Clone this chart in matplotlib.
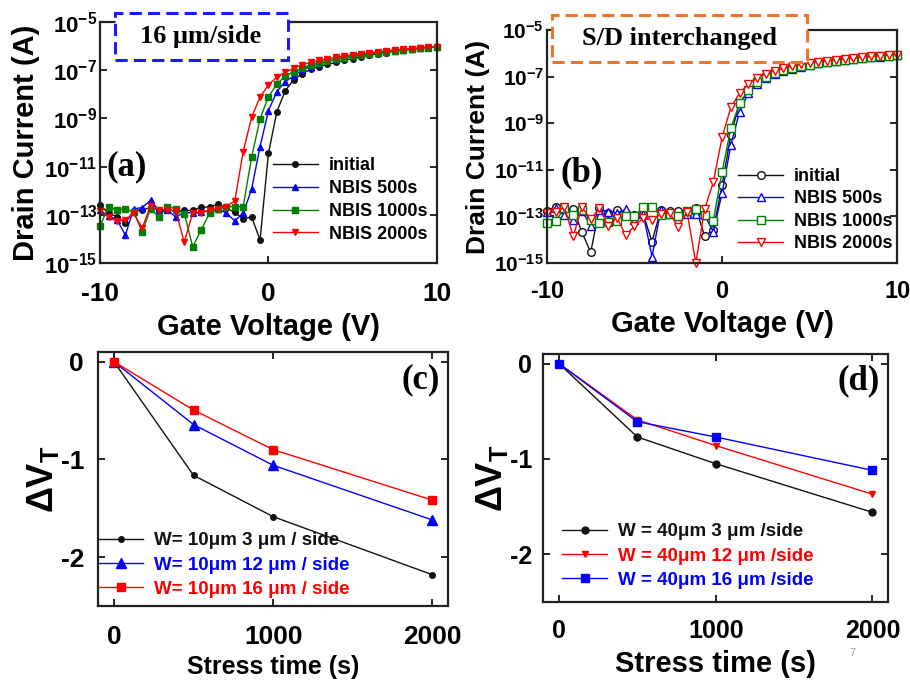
import matplotlib
matplotlib.use("Agg")
import numpy as np
import matplotlib.pyplot as plt
from matplotlib.patches import Rectangle
from matplotlib.ticker import NullLocator

plt.rcParams["font.family"] = ["Liberation Sans", "DejaVu Sans"]
plt.rcParams["font.weight"] = "bold"
plt.rcParams["axes.labelweight"] = "bold"
plt.rcParams["mathtext.fontset"] = "custom"
plt.rcParams["mathtext.rm"] = "Liberation Sans:bold"
plt.rcParams["mathtext.it"] = "Liberation Sans:bold"
plt.rcParams["mathtext.bf"] = "Liberation Sans:bold"
plt.rcParams["mathtext.default"] = "rm"
plt.rcParams["axes.unicode_minus"] = False

# gate sweep (V)
VG = [-10, -9.5, -9, -8.5, -8, -7.5, -7, -6.5, -6, -5.5, -5, -4.5, -4, -3.5,
      -3, -2.5, -2, -1.5, -1, -0.5, 0, 0.5, 1, 1.5, 2, 2.5, 3, 3.5, 4, 4.5,
      5, 5.5, 6, 6.5, 7, 7.5, 8, 8.5, 9, 9.5, 10]

# (a) 16 um/side, log10 of drain current
a_initial = [-12.60, -12.93, -13.08, -13.34, -12.83, -12.80, -12.70, -12.80, -12.78, -12.85,
             -12.82, -12.82, -12.68, -12.68, -12.55, -12.73, -12.90, -13.17, -13.08, -14.05,
             -10.45, -8.72, -7.85, -7.40, -7.15, -6.96, -6.85, -6.76, -6.68, -6.60,
             -6.52, -6.45, -6.38, -6.32, -6.27, -6.22, -6.17, -6.13, -6.09, -6.06, -6.03]
a_500 = [-12.82, -13.04, -13.20, -13.84, -12.75, -12.70, -12.40, -12.82, -12.80, -13.10,
         -12.90, -12.92, -12.90, -12.82, -12.75, -12.93, -13.25, -12.93, -11.94, -10.17,
         -8.68, -7.89, -7.48, -7.24, -6.99, -6.86, -6.74, -6.64, -6.56, -6.49,
         -6.43, -6.38, -6.33, -6.28, -6.24, -6.20, -6.16, -6.12, -6.09, -6.05, -6.02]
a_1000 = [-13.46, -12.66, -12.80, -12.75, -12.90, -13.70, -12.75, -13.10, -12.66, -12.75,
          -12.95, -14.32, -13.63, -12.93, -12.75, -12.66, -12.66, -12.66, -10.61, -9.02,
          -8.10, -7.58, -7.24, -7.06, -6.90, -6.80, -6.70, -6.62, -6.55, -6.48,
          -6.42, -6.37, -6.32, -6.28, -6.24, -6.20, -6.17, -6.14, -6.10, -6.07, -6.04]
a_2000 = [-12.86, -13.09, -13.27, -13.20, -12.93, -13.55, -12.62, -12.80, -12.78, -12.86,
          -14.13, -12.93, -12.93, -12.80, -12.75, -12.66, -12.42, -10.38, -8.95, -8.12,
          -7.61, -7.29, -7.09, -6.92, -6.78, -6.68, -6.60, -6.53, -6.47, -6.41,
          -6.36, -6.32, -6.28, -6.24, -6.20, -6.17, -6.14, -6.11, -6.08, -6.05, -6.02]

# (b) S/D interchanged
b_initial = [-12.75, -12.58, -12.70, -12.68, -13.68, -14.54, -12.64, -12.85, -12.72, -12.85,
             -12.95, -12.90, -14.08, -12.72, -12.75, -12.75, -12.90, -12.62, -13.84, -13.58,
             -11.65, -9.50, -8.13, -7.63, -7.28, -7.02, -6.86, -6.74, -6.64, -6.55,
             -6.48, -6.42, -6.37, -6.32, -6.28, -6.24, -6.20, -6.17, -6.14, -6.11, -6.08]
b_500 = [-12.80, -12.65, -12.95, -13.15, -12.75, -13.41, -12.72, -12.80, -12.85, -12.70,
         -13.15, -12.90, -14.73, -12.72, -12.88, -13.00, -12.90, -12.90, -12.95, -13.65,
         -12.00, -9.92, -8.50, -7.70, -7.31, -7.05, -6.88, -6.76, -6.66, -6.57,
         -6.49, -6.43, -6.38, -6.33, -6.29, -6.25, -6.21, -6.17, -6.14, -6.11, -6.08]
b_1000 = [-13.30, -13.20, -12.65, -12.95, -12.72, -13.15, -13.30, -13.22, -13.20, -13.00,
          -12.98, -12.58, -12.60, -12.95, -12.90, -13.00, -12.75, -12.69, -12.93, -13.18,
          -11.08, -9.21, -8.14, -7.56, -7.23, -7.00, -6.85, -6.73, -6.63, -6.55,
          -6.48, -6.42, -6.37, -6.32, -6.28, -6.24, -6.20, -6.16, -6.13, -6.10, -6.07]
b_2000 = [-12.85, -12.80, -12.60, -13.85, -12.60, -13.12, -12.65, -13.41, -13.05, -13.80,
          -13.41, -13.08, -13.15, -12.90, -12.85, -13.45, -12.80, -15.00, -12.68, -11.53,
          -9.60, -8.32, -7.70, -7.31, -7.06, -6.87, -6.74, -6.64, -6.55, -6.47,
          -6.40, -6.35, -6.31, -6.27, -6.23, -6.20, -6.16, -6.13, -6.10, -6.08, -6.05]

NBIS_LABELS = ["initial", "NBIS 500s", "NBIS 1000s", "NBIS 2000s"]
LOG_TICKS = [-15, -13, -11, -9, -7, -5]

# (c), (d) threshold voltage shift
STRESS_T = [0, 500, 1000, 2000]
c_3um = [0, -1.163, -1.586, -2.18]
c_12um = [0, -0.644, -1.06, -1.62]
c_16um = [0, -0.495, -0.90, -1.417]
c_labels = ["W= 10\u03bcm 3 \u03bcm / side", "W= 10\u03bcm 12 \u03bcm / side",
            "W= 10\u03bcm 16 \u03bcm / side"]
d_3um = [0, -0.77, -1.05, -1.56]
d_12um = [0, -0.59, -0.86, -1.37]
d_16um = [0, -0.61, -0.77, -1.12]
d_labels = ["W = 40\u03bcm 3 \u03bcm /side", "W = 40\u03bcm 12 \u03bcm /side",
            "W = 40\u03bcm 16 \u03bcm /side"]

BLACK = "#111111"
BLUE = "#0000ff"
GREEN = "#008000"
RED = "#ff0000"


def style_axes(ax):
    for sp in ax.spines.values():
        sp.set_linewidth(1.6)
        sp.set_color("#222222")
    ax.tick_params(direction="in", top=True, right=True, length=5, width=1.2)


def transfer_panel(ax, curves, markers, hollow, xpad, xsize, ysize, xlab_size, ylab_size):
    colors = [BLACK, BLUE, GREEN, RED]
    for vals, mk, c, lab in zip(curves, markers, colors, NBIS_LABELS):
        ax.plot(VG, 10.0 ** np.array(vals), color=c, lw=1.0, marker=mk,
                ms=5.5 if hollow else 5, mfc="white" if hollow else c,
                mec=c, mew=1.0, label=lab, clip_on=False)
    ax.set_yscale("log")
    ax.set_ylim(1e-15, 1e-5)
    ax.set_xlim(-10, 10)
    ax.set_yticks([10.0 ** e for e in LOG_TICKS])
    ax.set_yticklabels([rf"$10^{{{e}}}$" for e in LOG_TICKS])
    ax.yaxis.set_minor_locator(NullLocator())
    ax.set_xticks([-10, 0, 10])
    style_axes(ax)
    ax.tick_params(axis="x", pad=xpad, labelsize=xsize)
    ax.tick_params(axis="y", pad=2, labelsize=ysize)
    ax.set_xlabel("Gate Voltage (V)", fontsize=xlab_size, labelpad=5)
    ax.set_ylabel("Drain Current (A)", fontsize=ylab_size, labelpad=3)


fig = plt.figure(figsize=(9.1, 6.85), dpi=100)

ax_a = fig.add_axes([0.110, 0.616, 0.370, 0.352])
transfer_panel(ax_a, [a_initial, a_500, a_1000, a_2000], ["o", "^", "s", "v"],
               False, 14, 19, 16, 21, 21)
ax_a.lines[0].set_markersize(4)
ax_a.legend(loc="center left", bbox_to_anchor=(0.513, 0.261), frameon=False,
            fontsize=13, handlelength=2.5, handletextpad=0.6, labelspacing=0.32,
            borderpad=0, borderaxespad=0)
ax_a.text(0.02, 0.40, "(a)", transform=ax_a.transAxes, family="Liberation Serif",
          weight="bold", fontsize=25, ha="left", va="center")

ax_b = fig.add_axes([0.601, 0.616, 0.385, 0.340])
transfer_panel(ax_b, [b_initial, b_500, b_1000, b_2000], ["o", "^", "s", "v"],
               True, 12, 17, 15, 21, 19)
ax_b.legend(loc="center left", bbox_to_anchor=(0.546, 0.227), frameon=False,
            fontsize=13, handlelength=2.5, handletextpad=0.6, labelspacing=0.3,
            borderpad=0, borderaxespad=0)
ax_b.text(0.04, 0.386, "(b)", transform=ax_b.transAxes, family="Liberation Serif",
          weight="bold", fontsize=25, ha="left", va="center")


def shift_panel(ax, series, colors, markers, sizes, labels, legend_x, legend_y,
                tag, xpad, ypad, tsize, xlab_size, xlabpad):
    for vals, c, mk, ms, lab in zip(series, colors, markers, sizes, labels):
        ax.plot(STRESS_T, vals, color=c, lw=1.0, marker=mk, ms=ms, mfc=c, mec=c,
                label=lab)
    ax.set_xlim(-100, 2100)
    ax.set_ylim(-2.5, 0.1)
    ax.set_xticks([0, 1000, 2000])
    ax.set_yticks([0, -1, -2])
    style_axes(ax)
    ax.tick_params(axis="x", pad=xpad, labelsize=tsize)
    ax.tick_params(axis="y", pad=ypad, labelsize=tsize)
    ax.set_xlabel("Stress time (s)", fontsize=xlab_size, labelpad=xlabpad)
    ax.set_ylabel(r"$\Delta V_T$", fontsize=26, labelpad=0)
    ax.legend(loc="center left", bbox_to_anchor=(legend_x, legend_y), frameon=False,
              fontsize=13.5, handlelength=2.4, handletextpad=0.6, labelspacing=0.38,
              borderpad=0, borderaxespad=0, labelcolor="linecolor")
    ax.text(0.975, 0.892, tag, transform=ax.transAxes, family="Liberation Serif",
            weight="bold", fontsize=25, ha="right", va="center")


ax_c = fig.add_axes([0.1077, 0.1153, 0.385, 0.371])
shift_panel(ax_c, [c_3um, c_12um, c_16um], [BLACK, BLUE, RED], ["o", "^", "s"],
            [4, 6.5, 6], c_labels, 0.0, 0.161, "(c)", 14, 10, 19, 18, 4)

ax_d = fig.add_axes([0.597, 0.1212, 0.379, 0.362])
shift_panel(ax_d, [d_3um, d_12um, d_16um], [BLACK, RED, BLUE], ["o", "v", "s"],
            [5, 5, 6], d_labels, 0.055, 0.185, "(d)", 12, 8, 18, 21, 5)

# dashed caption boxes overlapping the top spines
fig.add_artist(Rectangle((115 / 910, 1 - 60 / 685), 173 / 910, 47 / 685,
                         transform=fig.transFigure, facecolor="white",
                         edgecolor="#1a1aff", linestyle=(0, (4, 2)), linewidth=2.2,
                         zorder=5))
fig.text(201 / 910, 1 - 37 / 685, "16 \u03bcm/side", family="Liberation Serif",
         weight="bold", fontsize=19, ha="center", va="center", zorder=6)
fig.add_artist(Rectangle((552 / 910, 1 - 62 / 685), 255 / 910, 47 / 685,
                         transform=fig.transFigure, facecolor="white",
                         edgecolor="#f07528", linestyle=(0, (4, 2)), linewidth=2.2,
                         zorder=5))
fig.text(679 / 910, 1 - 39 / 685, "S/D interchanged", family="Liberation Serif",
         weight="bold", fontsize=19, ha="center", va="center", zorder=6)

fig.text(852 / 910, 1 - 653 / 685, "7", fontsize=8, color="#999999",
         weight="normal", ha="center", va="center")

fig.savefig("out.png", dpi=100)
